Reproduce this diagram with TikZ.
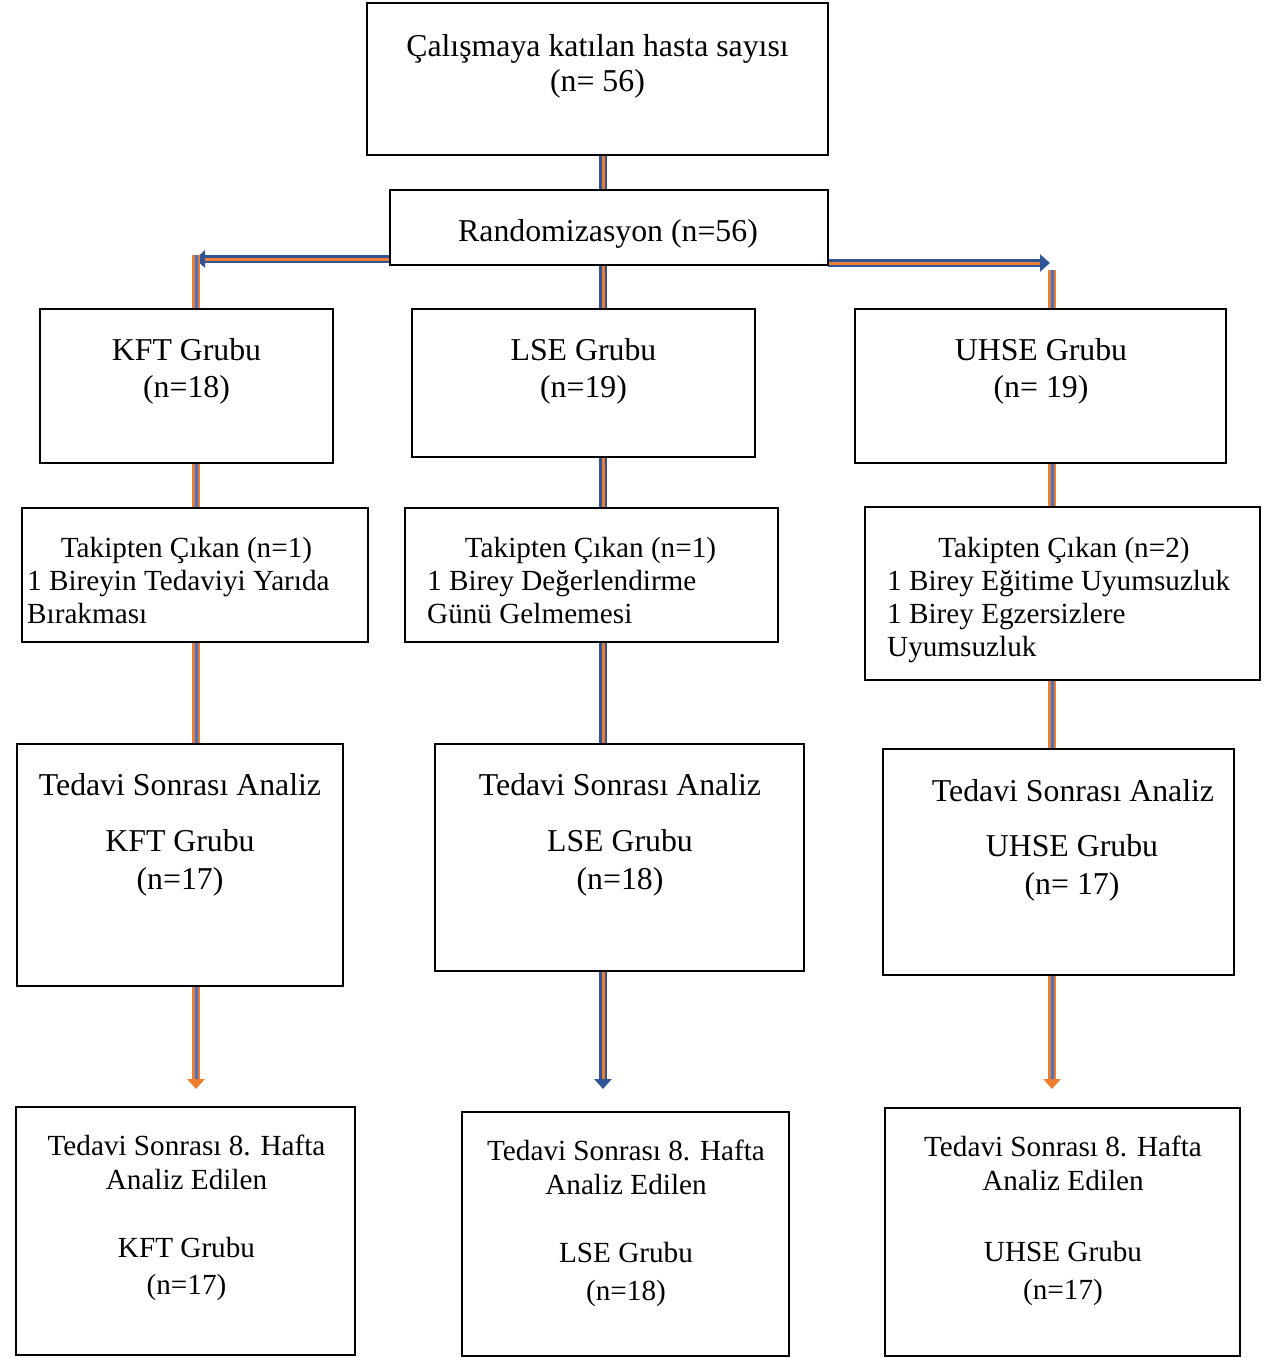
\documentclass[tikz,border=0pt]{standalone}
\usepackage{fontspec}
\setmainfont{Liberation Serif}
\usetikzlibrary{arrows.meta,calc}
\definecolor{cblue}{RGB}{47,85,151}
\definecolor{cbluei}{RGB}{68,114,196}
\definecolor{corange}{RGB}{237,125,49}
\newcommand\mkbox[5]{\node[box,minimum width={(#4-#2)*1pt},minimum height={(#5-#3)*1pt}] (#1) at ({(#2+#4)/2},{(#3+#5)/2}) {};}
\newcommand\conn[4]{\draw[line width=8pt,draw=#1] #3 -- #4; \draw[line width=3pt,draw=#2] #3 -- #4;}
\newcommand\carrow[4]{\draw[line width=8pt,draw=#1,-{Triangle[width=17pt,length=10pt]}] #3 -- #4; \draw[line width=3pt,draw=#2,shorten >=10pt] #3 -- #4;}
\begin{document}
\begin{tikzpicture}[x=1pt,y=-1pt,
 box/.style={draw=black,line width=2.3pt,inner sep=0pt,outer sep=0pt},
 big/.style={font=\fontsize{31.8}{36}\selectfont,inner sep=0pt,anchor=base},
 small/.style={font=\fontsize{29.2}{33}\selectfont,inner sep=0pt,anchor=base},
 smallL/.style={small,anchor=base west}]
\useasboundingbox (0,0) rectangle (1266,1358);
% boxes
\mkbox{top}{367}{3}{828}{155}
\mkbox{rand}{390}{190}{828}{265}
\mkbox{kft}{40}{309}{333}{463}
\mkbox{lse}{412}{309}{755}{457}
\mkbox{uhse}{855}{309}{1226}{463}
\mkbox{tk1}{22}{508}{368}{642}
\mkbox{tk2}{405}{508}{778}{642}
\mkbox{tk3}{865}{507}{1260}{680}
\mkbox{ta1}{17}{744}{343}{986}
\mkbox{ta2}{435}{744}{804}{971}
\mkbox{ta3}{883}{749}{1234}{975}
\mkbox{b1}{16}{1107}{355}{1355}
\mkbox{b2}{462}{1112}{789}{1356}
\mkbox{b3}{885}{1108}{1240}{1356}
% helper coordinates
\coordinate (xm) at (603,0);
\coordinate (xl) at (196,0);
\coordinate (xr) at (1052,0);
\coordinate (la) at (195,259);
\coordinate (lv) at (196,255);
\coordinate (ra) at (1050,263);
\coordinate (rv) at (1052,270);
\coordinate (e1) at (196,1089);
\coordinate (e2) at (603,1089);
\coordinate (e3) at (1052,1089);
% connectors
\conn{cblue}{corange}{(top.south -| xm)}{(rand.north -| xm)}
\conn{cblue}{corange}{(rand.south -| xm)}{(lse.north -| xm)}
\carrow{cblue}{corange}{(la -| rand.west)}{(la)}
\carrow{cblue}{corange}{(ra -| rand.east)}{(ra)}
\conn{corange}{cbluei}{(lv)}{(kft.north -| lv)}
\conn{corange}{cbluei}{(rv)}{(uhse.north -| rv)}
\conn{corange}{cbluei}{(kft.south -| xl)}{(tk1.north -| xl)}
\conn{cblue}{corange}{(lse.south -| xm)}{(tk2.north -| xm)}
\conn{corange}{cbluei}{(uhse.south -| xr)}{(tk3.north -| xr)}
\conn{corange}{cbluei}{(tk1.south -| xl)}{(ta1.north -| xl)}
\conn{cblue}{corange}{(tk2.south -| xm)}{(ta2.north -| xm)}
\conn{corange}{cbluei}{(tk3.south -| xr)}{(ta3.north -| xr)}
\carrow{corange}{cbluei}{(ta1.south -| e1)}{(e1)}
\carrow{cblue}{corange}{(ta2.south -| e2)}{(e2)}
\carrow{corange}{cbluei}{(ta3.south -| e3)}{(e3)}
% redraw box borders on top
\foreach \n in {top,rand,kft,lse,uhse,tk1,tk2,tk3,ta1,ta2,ta3,b1,b2,b3}
  \draw[line width=2.3pt] (\n.south west) rectangle (\n.north east);
% texts
\node[big] (t1) at (597.5,56) {Çalışmaya katılan hasta sayısı};
\node[big] (t2) at (597.5,91) {(n= 56)};
\node[big] (r1) at (608,241) {Randomizasyon (n=56)};
\node[big] (k1) at (186.5,360) {KFT Grubu};
\node[big] (k2) at (186.5,397) {(n=18)};
\node[big] (l1) at (583.5,360) {LSE Grubu};
\node[big] (l2) at (583.5,397) {(n=19)};
\node[big] (u1) at (1041,360) {UHSE Grubu};
\node[big] (u2) at (1041,397) {(n= 19)};
\node[small] (a1) at (186.5,557) {Takipten Çıkan (n=1)};
\node[smallL] (a2) at (27,590) {1 Bireyin Tedaviyi Yarıda};
\node[smallL] (a3) at (27,623) {Bırakması};
\node[small] (c1) at (590.5,557) {Takipten Çıkan (n=1)};
\node[smallL] (c2) at (427,590) {1 Birey Değerlendirme};
\node[smallL] (c3) at (427,623) {Günü Gelmemesi};
\node[small] (d1) at (1064,557) {Takipten Çıkan (n=2)};
\node[smallL] (d2) at (887,590) {1 Birey Eğitime Uyumsuzluk};
\node[smallL] (d3) at (887,623) {1 Birey Egzersizlere};
\node[smallL] (d4) at (887,656) {Uyumsuzluk};
\node[big] (f1) at (180,795) {Tedavi Sonrası Analiz};
\node[big] (f2) at (180,851) {KFT Grubu};
\node[big] (f3) at (180,889) {(n=17)};
\node[big] (g1) at (620,795) {Tedavi Sonrası Analiz};
\node[big] (g2) at (620,851) {LSE Grubu};
\node[big] (g3) at (620,889) {(n=18)};
\node[big] (h1) at (1073,801) {Tedavi Sonrası Analiz};
\node[big] (h2) at (1072,856) {UHSE Grubu};
\node[big] (h3) at (1072,894) {(n= 17)};
\node[small] (p1) at (186.5,1155) {Tedavi Sonrası 8. Hafta};
\node[small] (p2) at (186.5,1189) {Analiz Edilen};
\node[small] (p3) at (186.5,1257) {KFT Grubu};
\node[small] (p4) at (186.5,1294) {(n=17)};
\node[small] (q1) at (626,1160) {Tedavi Sonrası 8. Hafta};
\node[small] (q2) at (626,1194) {Analiz Edilen};
\node[small] (q3) at (626,1262) {LSE Grubu};
\node[small] (q4) at (626,1300) {(n=18)};
\node[small] (s1) at (1063,1156) {Tedavi Sonrası 8. Hafta};
\node[small] (s2) at (1063,1190) {Analiz Edilen};
\node[small] (s3) at (1063,1261) {UHSE Grubu};
\node[small] (s4) at (1063,1299) {(n=17)};
\end{tikzpicture}
\end{document}
